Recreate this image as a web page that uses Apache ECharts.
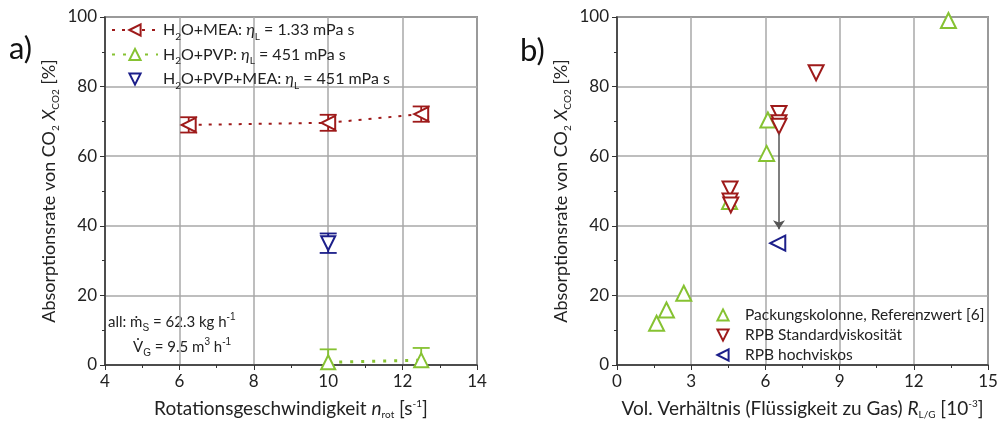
<!DOCTYPE html>
<html>
<head>
<meta charset="utf-8">
<script src="https://cdn.jsdelivr.net/npm/echarts@6/dist/echarts.min.js"></script>
<style>
  html, body { margin: 0; padding: 0; background: #fff; }
  #chart { width: 1000px; height: 421px; }
</style>
</head>
<body>
<div id="chart"></div>
<script>
// a) Absorptionsrate ueber Rotationsgeschwindigkeit
var meaX = [6.25, 10, 12.5];
var meaY = [69, 69.6, 72.1];
var meaErr = [2.2, 2.3, 2.2];
var pvpX = [10, 12.5];
var pvpY = [0.8, 1.4];
var pvpErr = [3.7, 3.5];
var pvpMeaX = [10];
var pvpMeaY = [35];
var pvpMeaErr = [2.8];

// b) Absorptionsrate ueber Vol. Verhaeltnis
var packX = [1.6, 2.0, 2.7, 4.55, 6.05, 6.1, 13.4];
var packY = [12, 15.8, 20.6, 47, 60.8, 70.4, 99];
var stdX = [4.57, 4.57, 4.6, 6.55, 6.55, 6.55, 8.05];
var stdY = [50.6, 47.1, 46, 72.3, 69.6, 68.6, 84];
var hochX = [6.5];
var hochY = [35];
var arrowFrom = [6.55, 66.5];
var arrowTo = [6.55, 39];

var xTicksA = [4, 14, 2];
var xTicksB = [0, 15, 3];
var yTicks = [0, 100, 20];

var RED = '#9e1a1a';
var GREEN = '#86c232';
var BLUE = '#1c1f8a';
var FONT = 'Lato';

function zip(xs, ys) {
  return xs.map(function (x, i) { return [x, ys[i]]; });
}

function errBars(xs, ys, errs, color) {
  return {
    type: 'custom',
    xAxisIndex: 0,
    yAxisIndex: 0,
    clip: true,
    z: 1,
    data: xs.map(function (x, i) { return [x, ys[i] - errs[i], ys[i] + errs[i]]; }),
    renderItem: function (params, api) {
      var lo = api.coord([api.value(0), api.value(1)]);
      var hi = api.coord([api.value(0), api.value(2)]);
      var w = 8.5;
      var st = { stroke: color, lineWidth: 1.8 };
      return {
        type: 'group',
        children: [
          { type: 'line', shape: { x1: lo[0], y1: lo[1], x2: hi[0], y2: hi[1] }, style: st },
          { type: 'line', shape: { x1: lo[0] - w, y1: lo[1], x2: lo[0] + w, y2: lo[1] }, style: st },
          { type: 'line', shape: { x1: hi[0] - w, y1: hi[1], x2: hi[0] + w, y2: hi[1] }, style: st }
        ]
      };
    }
  };
}

var rich = {
  s: { fontSize: 10, padding: [13, 0, 0, 0] },
  u: { fontSize: 10, padding: [0, 0, 10, 0] },
  i: { fontStyle: 'italic' }
};

function xAxis(ticks, gi, name) {
  return {
    type: 'value', gridIndex: gi, min: ticks[0], max: ticks[1], interval: ticks[2],
    name: name, nameLocation: 'middle', nameGap: 32,
    nameTextStyle: { fontFamily: FONT, fontSize: 19, color: '#222', rich: rich },
    axisLine: { onZero: false, lineStyle: { color: '#333', width: 1.5 } },
    axisTick: { length: 5, lineStyle: { color: '#333' } },
    minorTick: { show: true, splitNumber: 2, length: 3, lineStyle: { color: '#333' } },
    axisLabel: { fontFamily: FONT, fontSize: 17, color: '#222', margin: 8 },
    splitLine: { lineStyle: { color: '#a8a8a8', width: 1.5 } }
  };
}

function yAxis(gi, gap) {
  return {
    type: 'value', gridIndex: gi, min: yTicks[0], max: yTicks[1], interval: yTicks[2],
    name: 'Absorptionsrate von CO{s|2} {i|X}{s|CO2} [%]', nameLocation: 'middle', nameGap: gap,
    nameTextStyle: { fontFamily: FONT, fontSize: 18, color: '#222', rich: rich },
    axisLine: { onZero: false, lineStyle: { color: '#333', width: 1.5 } },
    axisTick: { length: 5, lineStyle: { color: '#333' } },
    minorTick: { show: true, splitNumber: 2, length: 3, lineStyle: { color: '#333' } },
    axisLabel: { fontFamily: FONT, fontSize: 17, color: '#222', margin: 8 },
    splitLine: { lineStyle: { color: '#a8a8a8', width: 1.5 } }
  };
}

var legendA = {
  'mea': 'H{s|2}O+MEA: {i|η}{s|L} = 1.33 mPa s',
  'pvp': 'H{s|2}O+PVP: {i|η}{s|L} = 451 mPa s',
  'pvpmea': 'H{s|2}O+PVP+MEA: {i|η}{s|L} = 451 mPa s'
};

var hidden = { opacity: 0 };

var chartDom = document.getElementById('chart');
var myChart = echarts.init(chartDom);
var option;

option = {
  animation: false,
  textStyle: { fontFamily: FONT },
  grid: [
    { left: 105, top: 17, width: 372, height: 348, show: true, borderColor: '#444', borderWidth: 1.5, outerBoundsMode: 'none' },
    { left: 617, top: 17, width: 371, height: 348, show: true, borderColor: '#444', borderWidth: 1.5, outerBoundsMode: 'none' }
  ],
  xAxis: [
    xAxis(xTicksA, 0, 'Rotationsgeschwindigkeit {i|n}{s|rot} [s{u|-1}]'),
    xAxis(xTicksB, 1, 'Vol. Verhältnis (Flüssigkeit zu Gas) {i|R}{s|L/G} [10{u|-3}]')
  ],
  yAxis: [yAxis(0, 44), yAxis(1, 44)],
  legend: [
    {
      left: 106, top: 17, orient: 'vertical', itemGap: 5, itemWidth: 46, itemHeight: 14,
      data: ['mea', 'pvp', 'pvpmea'],
      formatter: function (name) { return legendA[name]; },
      textStyle: { fontFamily: FONT, fontSize: 16, color: '#222', rich: rich }
    },
    {
      left: 700, top: 302, orient: 'vertical', itemGap: 4, itemWidth: 34, itemHeight: 14,
      data: ['Packungskolonne, Referenzwert [6]', 'RPB Standardviskosität', 'RPB hochviskos'],
      textStyle: { fontFamily: FONT, fontSize: 15.5, color: '#222' }
    }
  ],
  graphic: [
    { type: 'text', left: 9, top: 33, style: { text: 'a)', font: '31px Lato', fill: '#111' } },
    { type: 'text', left: 520, top: 35, style: { text: 'b)', font: '31px Lato', fill: '#111' } },
    {
      type: 'text', left: 108, top: 312,
      style: {
        text: 'all: {i|ṁ}{s|S} = 62.3 kg h{u|-1}',
        font: '15px Lato', fill: '#222', rich: rich
      }
    },
    {
      type: 'text', left: 133, top: 337,
      style: {
        text: '{i|V̇}{s|G} = 9.5 m{u|3} h{u|-1}',
        font: '15px Lato', fill: '#222', rich: rich
      }
    }
  ],
  series: [
    errBars(meaX, meaY, meaErr, RED),
    errBars(pvpX, pvpY, pvpErr, GREEN),
    errBars(pvpMeaX, pvpMeaY, pvpMeaErr, BLUE),
    {
      name: 'mea', type: 'line', xAxisIndex: 0, yAxisIndex: 0, z: 3,
      data: zip(meaX, meaY),
      symbol: 'triangle', symbolSize: 14, symbolRotate: 90,
      itemStyle: { color: '#fff', borderColor: RED, borderWidth: 2 },
      lineStyle: { color: RED, width: 2, type: [3, 7] }
    },
    {
      name: 'pvp', type: 'line', xAxisIndex: 0, yAxisIndex: 0, z: 3,
      data: zip(pvpX, pvpY),
      symbol: 'triangle', symbolSize: 14,
      itemStyle: { color: '#fff', borderColor: GREEN, borderWidth: 2 },
      lineStyle: { color: GREEN, width: 3, type: [3, 8] }
    },
    {
      name: 'pvpmea', type: 'line', xAxisIndex: 0, yAxisIndex: 0, z: 3,
      data: zip(pvpMeaX, pvpMeaY),
      symbol: 'triangle', symbolSize: 14, symbolRotate: 180,
      itemStyle: { color: '#fff', borderColor: BLUE, borderWidth: 2 },
      lineStyle: hidden
    },
    {
      name: 'Packungskolonne, Referenzwert [6]', type: 'line', xAxisIndex: 1, yAxisIndex: 1,
      data: zip(packX, packY),
      symbol: 'triangle', symbolSize: 15, showAllSymbol: true,
      itemStyle: { color: '#fff', borderColor: GREEN, borderWidth: 2 },
      lineStyle: hidden
    },
    {
      name: 'RPB Standardviskosität', type: 'line', xAxisIndex: 1, yAxisIndex: 1,
      data: zip(stdX, stdY),
      symbol: 'triangle', symbolSize: 15, symbolRotate: 180, showAllSymbol: true,
      itemStyle: { color: '#fff', borderColor: RED, borderWidth: 2 },
      lineStyle: hidden
    },
    {
      name: 'RPB hochviskos', type: 'line', xAxisIndex: 1, yAxisIndex: 1,
      data: zip(hochX, hochY),
      symbol: 'triangle', symbolSize: 15, symbolRotate: 90,
      itemStyle: { color: '#fff', borderColor: BLUE, borderWidth: 2 },
      lineStyle: hidden,
      markLine: {
        silent: true, symbol: ['none', 'arrow'], symbolSize: 9,
        label: { show: false },
        lineStyle: { color: '#555', width: 1.5, type: 'solid', opacity: 1 },
        data: [[{ coord: arrowFrom }, { coord: arrowTo }]]
      }
    }
  ]
};

option && myChart.setOption(option);
</script>
</body>
</html>
